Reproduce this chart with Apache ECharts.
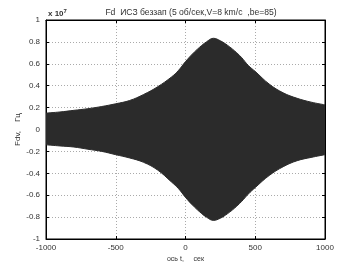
<!DOCTYPE html>
<html><head><meta charset="utf-8">
<script src="https://cdn.jsdelivr.net/npm/echarts@6/dist/echarts.min.js"></script>
<style>html,body{margin:0;padding:0;background:#fff}#c{width:359px;height:269px}</style>
</head><body><div id="c"></div>
<script>
var timeSec = [-1000,-900,-800,-700,-600,-500,-400,-300,-200,-100,-50,0,50,100,150,200,250,300,350,400,450,500,600,700,800,900,1000];
var upperEnv = [0.15,0.16,0.175,0.19,0.21,0.235,0.265,0.32,0.39,0.48,0.54,0.62,0.69,0.75,0.80,0.833,0.81,0.77,0.72,0.66,0.585,0.53,0.415,0.335,0.285,0.25,0.225];
var lowerEnv = [-0.14,-0.15,-0.16,-0.18,-0.20,-0.23,-0.26,-0.30,-0.37,-0.48,-0.54,-0.62,-0.69,-0.75,-0.80,-0.83,-0.81,-0.77,-0.72,-0.66,-0.59,-0.53,-0.42,-0.34,-0.285,-0.255,-0.23];
var xTicks = [-1000,-500,0,500,1000];
var yTickLabels = {"-1":"-1","-0.8":"-0.8","-0.6":"-0.6","-0.4":"-0.4","-0.2":"-0.2","0":"0","0.2":"0.2","0.4":"0.4","0.6":"0.6","0.8":"0.8","1":"1"};
var titleText = "Fd  ИСЗ беззап (5 об/сек,V=8 km/c  ,be=85)";
var xName = "ось t,     сек";
var yName = "Fdv,    Гц";

var up = timeSec.map(function(t,i){return [t, upperEnv[i]];});
var lo = timeSec.map(function(t,i){return [t, lowerEnv[i]];});
var font = "Liberation Sans";
var chart = echarts.init(document.getElementById('c'));
chart.setOption({
  animation:false,
  textStyle:{fontFamily:font},
  title:[{text:titleText, left:186, top:3, textAlign:'center',
    textStyle:{fontSize:8.6, fontWeight:'normal', color:'#333', fontFamily:font}},
    {text:'{a|x 10}{b|7}', left:43, top:3,
    textStyle:{rich:{a:{fontSize:8,color:'#333',fontFamily:font}, b:{fontSize:6,color:'#333',verticalAlign:'top',padding:[0,0,6,0],fontFamily:font}}}}],
  grid:{left:46, right:34, top:20, bottom:30, show:true, borderColor:'#000', borderWidth:1, backgroundColor:'#fff'},
  xAxis:[{type:'value', min:-1000, max:1000, interval:500,
    name:xName, nameLocation:'middle', nameGap:17, nameMoveOverlap:false, nameTextStyle:{fontSize:7, color:'#333'},
    axisLine:{show:true, onZero:false, lineStyle:{color:'#000'}},
    axisTick:{show:true, inside:true, length:3, lineStyle:{color:'#000'}},
    axisLabel:{fontSize:8, color:'#333', margin:5, formatter:function(v){return String(v);}},
    splitLine:{show:true, lineStyle:{color:'#aaa', type:[1,2], width:1}}},
    {type:'value', position:'top', min:-1000, max:1000, interval:500,
    axisLine:{show:true, onZero:false, lineStyle:{color:'#000'}},
    axisTick:{show:true, inside:true, length:3, lineStyle:{color:'#000'}},
    axisLabel:{show:false}, splitLine:{show:false}}],
  yAxis:[{type:'value', min:-1, max:1, interval:0.2,
    name:yName, nameLocation:'middle', nameGap:24, nameMoveOverlap:false, nameTextStyle:{fontSize:8, color:'#333'},
    axisLine:{show:true, onZero:false, lineStyle:{color:'#000'}},
    axisTick:{show:true, inside:true, length:3, lineStyle:{color:'#000'}},
    axisLabel:{fontSize:8, color:'#333', margin:6, formatter:function(v){var k=String(Math.round(v*10)/10);return yTickLabels[k]!==undefined?yTickLabels[k]:k;}},
    splitLine:{show:true, lineStyle:{color:'#aaa', type:[1,2], width:1}}},
    {type:'value', position:'right', min:-1, max:1, interval:0.2,
    axisLine:{show:true, onZero:false, lineStyle:{color:'#000'}},
    axisTick:{show:true, inside:true, length:3, lineStyle:{color:'#000'}},
    axisLabel:{show:false}, splitLine:{show:false}}],
  series:[
    {type:'line', data:up, smooth:0.4, symbol:'none', lineStyle:{color:'#2b2b2b', width:1},
     areaStyle:{color:'#2b2b2b', opacity:1, origin:-0.05}},
    {type:'line', data:lo, smooth:0.4, symbol:'none', lineStyle:{color:'#2b2b2b', width:1},
     areaStyle:{color:'#2b2b2b', opacity:1, origin:0.05}}
  ]
});
</script></body></html>
